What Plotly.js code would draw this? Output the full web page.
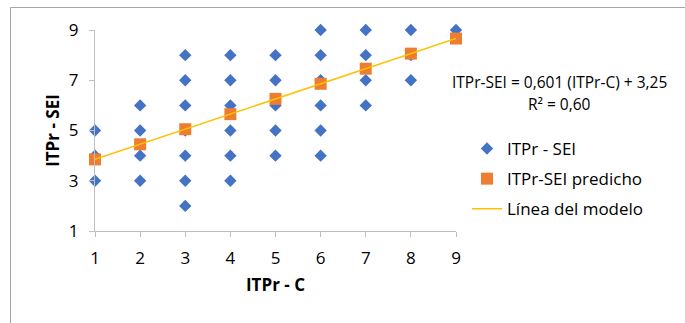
<!DOCTYPE html>
<html>
<head>
<meta charset="utf-8">
<script src="https://cdn.plot.ly/plotly-3.0.1.min.js"></script>
<style>html,body{margin:0;padding:0;background:#fff}#chart{width:685px;height:323px}</style>
</head>
<body>
<div id="chart"></div>
<script>
// Observed data (ITPr - C vs ITPr - SEI)
const obsX = [1,1,1, 2,2,2,2, 3,3,3,3,3,3,3, 4,4,4,4,4,4, 5,5,5,5,5, 6,6,6,6,6,6, 7,7,7,7, 8,8,8, 9];
const obsY = [5,4,3, 6,5,4,3, 8,7,6,5,4,3,2, 8,7,6,5,4,3, 8,7,6,5,4, 9,8,7,6,5,4, 9,8,7,6, 9,8,7, 9];
// Predicted values
const predX = [1,2,3,4,5,6,7,8,9];
const predY = [3.85,4.45,5.05,5.65,6.26,6.86,7.46,8.06,8.66];
const xTicks = [1,2,3,4,5,6,7,8,9];
const yTicks = [1,3,5,7,9];
const eqText = "ITPr-SEI = 0,601 (ITPr-C) + 3,25";
const r2Text = "R² = 0,60";

const FONT = "Open Sans, Noto Sans, sans-serif";

const L = 95, R = 229, T = 30, B = 92;
const W = 685, H = 323;
const pw = W - L - R, ph = H - T - B;
const px2paperX = p => (p - L) / pw;
const px2paperY = p => (H - B - p) / ph;

const traces = [
  {x: obsX, y: obsY, type: 'scatter', mode: 'markers', name: 'ITPr - SEI',
   legendgroup: 'a', cliponaxis: false,
   marker: {symbol: 'diamond', size: 9.5, color: '#4472C4'}},
  {x: predX, y: predY, type: 'scatter', mode: 'markers', name: 'ITPr-SEI predicho',
   legendgroup: 'b', cliponaxis: false,
   marker: {symbol: 'square', size: 12, color: '#ED7D31'}},
  {x: predX, y: predY, type: 'scatter', mode: 'lines', name: 'Línea del modelo',
   legendgroup: 'c', cliponaxis: false,
   line: {color: '#FFC000', width: 1.5}}
];

const layout = {
  width: W, height: H,
  margin: {l: L, r: R, t: T, b: B},
  paper_bgcolor: '#fff', plot_bgcolor: '#fff',
  font: {family: FONT, size: 14, color: '#000'},
  showlegend: true,
  legend: {x: px2paperX(467), xanchor: 'left', y: px2paperY(131), yanchor: 'top',
           tracegroupgap: 5, font: {family: FONT, size: 17, color: '#000'},
           bgcolor: 'rgba(0,0,0,0)'},
  xaxis: {range: [1, 9], tickvals: xTicks, ticktext: xTicks.map(String),
          showgrid: false, zeroline: false, showline: true, linecolor: '#bfbfbf', linewidth: 1,
          ticks: 'outside', ticklen: 5, tickcolor: '#bfbfbf', ticklabelstandoff: 7,
          tickfont: {family: FONT, size: 17, color: '#000'},
          title: {text: '<b>ITPr - C</b>', font: {family: FONT, size: 17, color: '#000'}, standoff: 10}},
  yaxis: {range: [1, 9], tickvals: yTicks, ticktext: yTicks.map(String),
          showgrid: false, zeroline: false, showline: true, linecolor: '#bfbfbf', linewidth: 1,
          ticks: 'outside', ticklen: 5, tickcolor: '#bfbfbf', ticklabelstandoff: 7,
          tickfont: {family: FONT, size: 17, color: '#000'},
          title: {text: '<b>ITPr - SEI</b>', font: {family: FONT, size: 17, color: '#000'}, standoff: 4}},
  annotations: [
    {xref: 'paper', yref: 'paper', x: px2paperX(559), y: px2paperY(82), text: eqText,
     showarrow: false, xanchor: 'center', yanchor: 'middle', font: {family: FONT, size: 15.5, color: '#000'}},
    {xref: 'paper', yref: 'paper', x: px2paperX(559), y: px2paperY(104), text: r2Text,
     showarrow: false, xanchor: 'center', yanchor: 'middle', font: {family: FONT, size: 15.5, color: '#000'}}
  ],
  shapes: [
    {type: 'line', xref: 'paper', yref: 'paper', x0: px2paperX(10.5), x1: px2paperX(10.5),
     y0: px2paperY(7.5), y1: px2paperY(330), line: {color: '#a6a6a6', width: 1}},
    {type: 'line', xref: 'paper', yref: 'paper', x0: px2paperX(10.5), x1: px2paperX(700),
     y0: px2paperY(7.5), y1: px2paperY(7.5), line: {color: '#a6a6a6', width: 1}}
  ]
};

Plotly.newPlot('chart', traces, layout, {displayModeBar: false, staticPlot: true});
</script>
</body>
</html>
